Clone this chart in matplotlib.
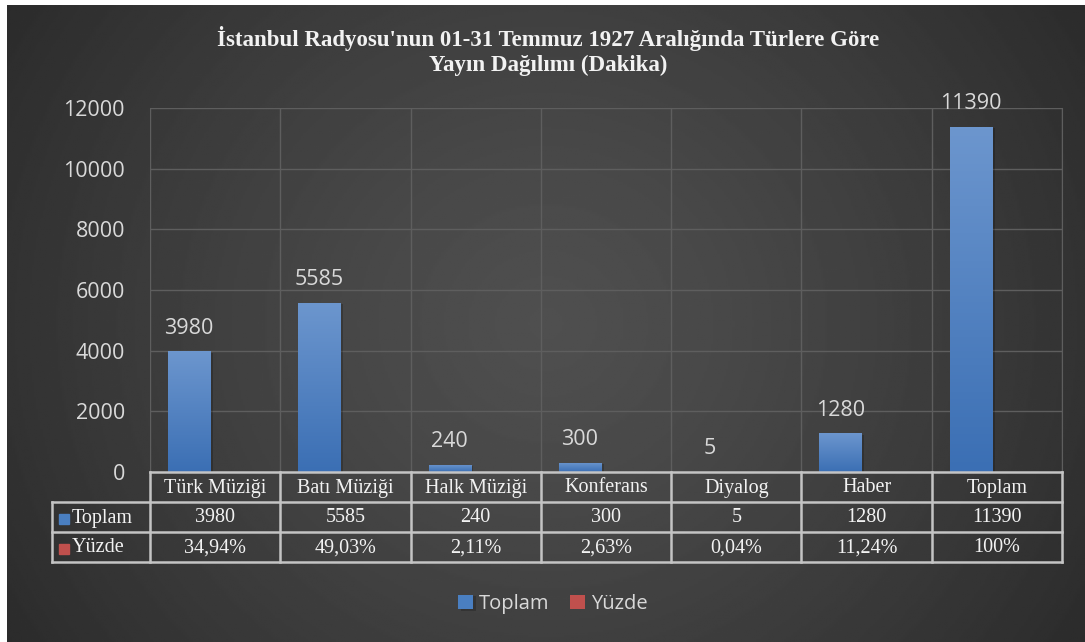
import numpy as np
import matplotlib.pyplot as plt
from matplotlib.colors import LinearSegmentedColormap
from matplotlib.patheffects import SimplePatchShadow, Normal

categories = ['Türk Müziği', 'Batı Müziği', 'Halk Müziği', 'Konferans', 'Diyalog', 'Haber', 'Toplam']
toplam = [3980, 5585, 240, 300, 5, 1280, 11390]
yuzde = [0.3494, 0.4903, 0.0211, 0.0263, 0.0004, 0.1124, 1.0]
yuzde_labels = ['34,94%', '49,03%', '2,11%', '2,63%', '0,04%', '11,24%', '100%']
yticks = [0, 2000, 4000, 6000, 8000, 10000, 12000]
title = "İstanbul Radyosu'nun 01-31 Temmuz 1927 Aralığında Türlere Göre\nYayın Dağılımı (Dakika)"

W, H = 1085, 642
fig = plt.figure(figsize=(W / 100, H / 100), dpi=100)
fig.patch.set_facecolor('white')

# dark radial background
bg = fig.add_axes([7 / W, 0, 1 - 7 / W, 1 - 5 / H])
yy, xx = np.mgrid[0:1:300j, 0:1:500j]
r = np.sqrt(((xx - 0.5) * 1.6) ** 2 + ((yy - 0.5) * 1.0) ** 2)
shade = 0.31 - 0.15 * np.clip(r, 0, 1.2) ** 1.3
bg.imshow(shade, cmap='gray', vmin=0, vmax=1, extent=[0, 1, 0, 1], aspect='auto')
bg.axis('off')

sans = 'Open Sans'
serif = 'Liberation Serif'
light = '#d9d9d9'

ax = fig.add_axes([150 / W, 1 - 472 / H, 912 / W, 364 / H])
ax.patch.set_alpha(0)
x = np.arange(len(categories))
w = 0.323
off = 0.2
blue_cm = LinearSegmentedColormap.from_list('b', ['#3b6fb4', '#6c96ce'])

bars = ax.bar(x - off, toplam, w, color='#4a7fc1', zorder=2,
              path_effects=[SimplePatchShadow(offset=(2, -1), shadow_rgbFace='black', alpha=0.2), Normal()])
bars2 = ax.bar(x + off, yuzde, w, color='#c0504d', zorder=2)

grad = np.linspace(0, 1, 100).reshape(-1, 1)
for b in bars:
    im = ax.imshow(grad, cmap=blue_cm, origin='lower', aspect='auto', zorder=3,
                   extent=[b.get_x(), b.get_x() + b.get_width(), 0, max(b.get_height(), 1)])
    im.set_clip_path(b)

for b, v in zip(bars, toplam):
    ax.annotate(str(v), (b.get_x() + b.get_width() / 2, v), xytext=(0, 9),
                textcoords='offset points', ha='center', va='bottom',
                fontsize=15.5, family=sans, color=light, zorder=4)

ax.set_xlim(-0.5, len(categories) - 0.5)
ax.set_ylim(0, 12000)
ax.set_yticks(yticks)
ax.set_yticklabels([str(t) for t in yticks], fontsize=15.5, family=sans, color=light)
ax.tick_params(axis='y', length=0, pad=18)
ax.set_xticks(np.arange(len(categories) + 1) - 0.5)
ax.tick_params(axis='x', length=0, labelbottom=False)
ax.grid(True, color='#5e5e5e', lw=1, zorder=0)
for s in ['left', 'top', 'bottom']:
    ax.spines[s].set_visible(False)
ax.spines['right'].set_color('#5e5e5e')

# data table drawn in pixel coordinates
ov = fig.add_axes([0, 0, 1, 1])
ov.set_xlim(0, W)
ov.set_ylim(H, 0)
ov.axis('off')
lc = '#c4c4c4'
col_w = 912 / len(categories)
edges = [150 + i * col_w for i in range(len(categories) + 1)]
ov.plot([150, 1062], [472, 472], color=lc, lw=1.8)
for yv in [502, 532, 562]:
    ov.plot([52, 1062], [yv, yv], color=lc, lw=1.8)
for xv in edges:
    ov.plot([xv, xv], [472, 562], color=lc, lw=1.8)
ov.plot([52, 52], [502, 562], color=lc, lw=1.8)

tcol = '#f2f2f2'
for i, c in enumerate(categories):
    cx = (edges[i] + edges[i + 1]) / 2
    ov.text(cx, 488, c, ha='center', va='center', fontsize=14.5, family=serif, color=tcol)
    ov.text(cx, 518, str(toplam[i]), ha='center', va='center', fontsize=14.5, family=serif, color=tcol)
    ov.text(cx, 548, yuzde_labels[i], ha='center', va='center', fontsize=14.5, family=serif, color=tcol)

for yc, name, col in [(518, 'Toplam', '#4a7fc1'), (548, 'Yüzde', '#c0504d')]:
    ov.add_patch(plt.Rectangle((59, yc - 4), 10, 10, color=col))
    ov.text(72, yc, name, ha='left', va='center', fontsize=14.5, family=serif, color=tcol)

fig.text(548 / W, 1 - 51 / H, title, ha='center', va='center', fontsize=16.5, family=serif,
         fontweight='bold', color='#f2f2f2', linespacing=1.2)

fig.legend([bars, bars2], ['Toplam', 'Yüzde'], loc='center', bbox_to_anchor=(553 / W, 1 - 604 / H),
           ncol=2, frameon=False, handlelength=0.75, handleheight=0.75, handletextpad=0.3,
           columnspacing=1.0, prop={'family': sans, 'size': 14.5}, labelcolor=light)

fig.savefig('out.png', dpi=100)
